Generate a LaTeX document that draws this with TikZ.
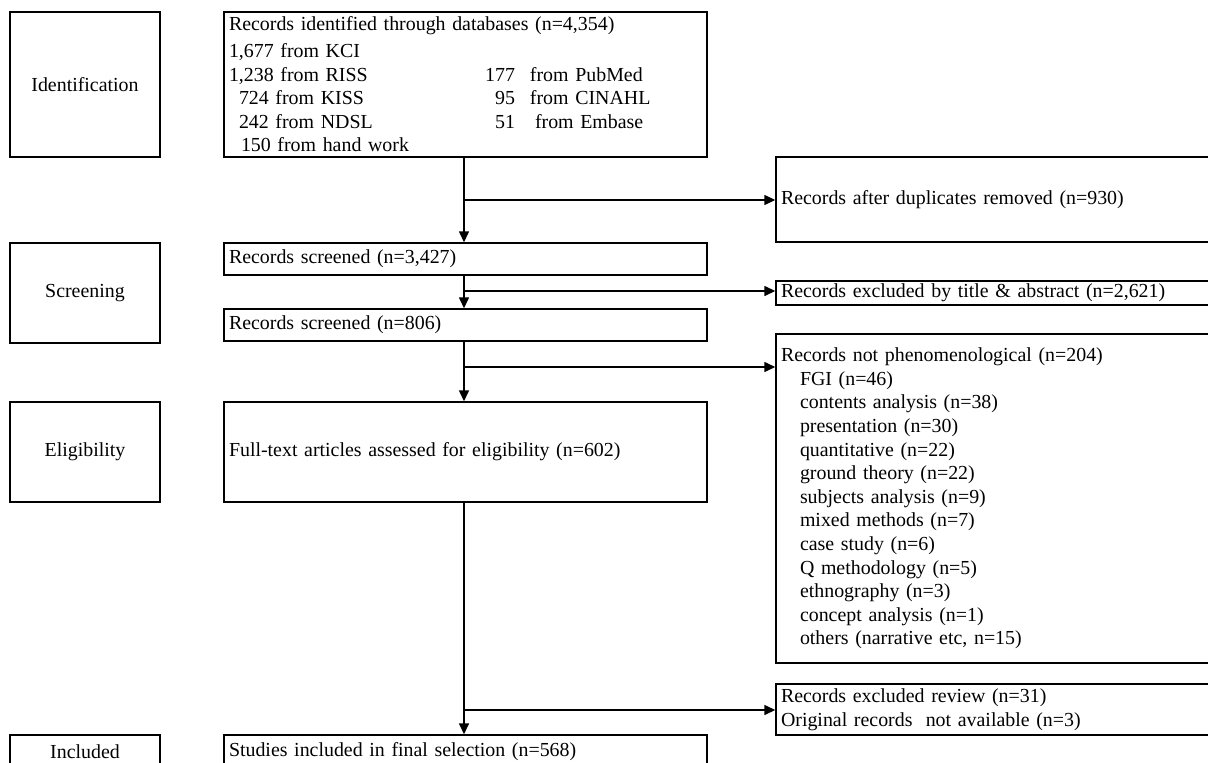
\documentclass[tikz,border=0pt]{standalone}
\usepackage{fontspec}
\setmainfont[WordSpace=1.9]{Liberation Serif}
\usetikzlibrary{arrows.meta}
\begin{document}
\begin{tikzpicture}[x=1pt,y=-1pt,
  box/.style={draw, line width=1.4pt, inner xsep=5pt, inner ysep=0pt, align=left,
    font=\fontsize{19.9}{23.6}\selectfont},
  stage/.style={box, align=center, text width=140pt, minimum width=150pt},
  wide/.style={box, text width=473pt},
  side/.style={box, text width=429pt},
  arr/.style={line width=1.4pt, -{Triangle[length=11pt,width=10pt]}},
  ln/.style={line width=1.4pt}]
\useasboundingbox (0,0) rectangle (1208,763);
\clip (0,0) rectangle (1208,763);
\fill[white] (0,0) rectangle (1208,763);

% stage labels
\node[stage, minimum height=145pt] (idf) at (85,84.5) {Identification};
\node[stage, minimum height=100pt] (scr) at (85,293) {Screening};
\node[stage, minimum height=100pt] (eli) at (85,452) {Eligibility};
\node[stage, minimum height=34pt] (inc) at (85,752) {Included};

% main column
\node[wide, minimum height=145pt] (rec) at (465.5,84.5) {Records identified through databases (n=4,354)\\[3pt]
1,677 from KCI\\
\leavevmode\rlap{1,238 from RISS}\makebox[286pt][r]{177}\hspace{15pt}from PubMed\\
\hspace*{10pt}\rlap{724 from KISS}\makebox[276pt][r]{95}\hspace{15pt}from CINAHL\\
\hspace*{10pt}\rlap{242 from NDSL}\makebox[276pt][r]{51}\hspace{20pt}from Embase\\
\hspace*{12pt}150 from hand work};
\node[wide, minimum height=32pt] (s1) at (465.5,259) {Records screened (n=3,427)};
\node[wide, minimum height=32pt] (s2) at (465.5,325) {Records screened (n=806)};
\node[wide, minimum height=100pt] (ft) at (465.5,452) {Full-text articles assessed for eligibility (n=602)};
\node[wide, minimum height=34pt] (st) at (465.5,752) {Studies included in final selection (n=568)};

% side boxes
\node[side, minimum height=85pt] (dup) at (995.5,199.5) {Records after duplicates removed (n=930)};
\node[side, minimum height=24pt] (ex1) at (995.5,293) {Records excluded by title \& abstract (n=2,621)};
\node[side, minimum height=329pt] (np) at (995.5,498.5) {Records not phenomenological (n=204)\\
\hspace*{19pt}FGI (n=46)\\
\hspace*{19pt}contents analysis (n=38)\\
\hspace*{19pt}presentation (n=30)\\
\hspace*{19pt}quantitative (n=22)\\
\hspace*{19pt}ground theory (n=22)\\
\hspace*{19pt}subjects analysis (n=9)\\
\hspace*{19pt}mixed methods (n=7)\\
\hspace*{19pt}case study (n=6)\\
\hspace*{19pt}Q methodology (n=5)\\
\hspace*{19pt}ethnography (n=3)\\
\hspace*{19pt}concept analysis (n=1)\\
\hspace*{19pt}others (narrative etc, n=15)};
\node[side, minimum height=51pt] (rev) at (995.5,709.5) {Records excluded review (n=31)\\
Original records\ \ not available (n=3)};

% connectors
\coordinate (mc) at (464,0);
\coordinate (b1) at (464,200);
\coordinate (b2) at (464,291);
\coordinate (b3) at (464,367);
\coordinate (b4) at (464,710);
\draw[arr] (rec.south -| mc) -- (s1.north -| mc);
\draw[arr] (s1.south -| mc) -- (s2.north -| mc);
\draw[arr] (s2.south -| mc) -- (ft.north -| mc);
\draw[arr] (ft.south -| mc) -- (st.north -| mc);
\draw[arr] (b1) -- (b1 -| dup.west);
\draw[arr] (b2) -- (b2 -| ex1.west);
\draw[arr] (b3) -- (b3 -| np.west);
\draw[arr] (b4) -- (b4 -| rev.west);
\end{tikzpicture}
\end{document}
